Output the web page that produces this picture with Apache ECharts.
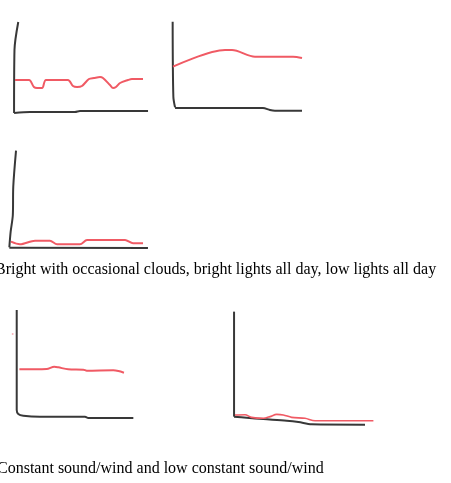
<!DOCTYPE html>
<html><head><meta charset="utf-8">
<style>html,body{margin:0;padding:0;background:#fff;}#c{width:451px;height:483px;}</style>
<script src="https://cdn.jsdelivr.net/npm/echarts@6/dist/echarts.min.js"></script>
</head><body><div id="c"></div>
<script>
// Panel 1: bright with occasional clouds
const p1AxisV = [[5.9,93],[3.2,65],[2.9,2]];
const p1AxisH = [[2.9,2],[14.3,3],[46.4,3],[50,4],[98.6,4]];
const p1Line = [[3.6,35],[13.6,35],[17.1,28],[19.3,27],[22.9,27],[25.7,35],[41.4,35],[45,29],[47.9,28],[51.4,29],[56.4,36],[60,37],[64.3,38],[66.4,37],[71.4,30],[73.6,27],[75.7,28],[78.6,32],[84.3,35],[87.1,36],[95,36]];
// Panel 2: bright lights all day
const p2AxisV = [[1.9,93.3],[2.4,18.3],[3.6,7.7]];
const p2AxisH = [[3.6,7],[66.4,7],[71.4,5],[75,4.3],[94.3,4.3]];
const p2Line = [[2.1,48.3],[39.3,65],[44.3,65],[60.7,58.3],[87.9,58.3],[94.3,57]];
// Panel 3: low lights all day
const p3AxisV = [[7.6,99.3],[5.7,63.3],[5.4,35],[3.9,18.3],[3.0,2.7]];
const p3AxisH = [[3.0,2.3],[98.6,2]];
const p3Line = [[4.1,8.3],[10.3,5.7],[20.7,9.3],[31,9.3],[35.9,5.7],[51.7,5.7],[56.6,10],[82.8,10],[88.3,6.7],[95.2,6.7]];
// Panel 4: constant sound/wind
const p4AxisV = [[4.8,91.7],[4.8,8.3],[5.9,5],[9.5,3.6],[21.4,2.8],[53.6,2.8],[55.9,1.7],[88.1,1.7]];
const p4Dot = [[1.9,71.7]];
const p4Line = [[6.7,42.2],[26.2,42.5],[31.6,44.4],[34.5,43.9],[41.6,42.2],[52.4,41.9],[54.8,41.1],[73.8,41.4],[77.4,40.8],[81.4,39.4]];
// Panel 5: low constant sound/wind
const p5AxisV = [[2.7,90.3],[2.7,2.8]];
const p5AxisH = [[2.7,2.8],[11.1,1.9],[22.2,0.8],[37.8,-0.6],[45.6,-1.7],[54.4,-3.6],[90,-3.9]];
const p5Line = [[3.3,4.2],[10,4.4],[14.4,2.2],[22.2,1.4],[26.7,2.8],[31.1,4.7],[35.6,4.2],[41.1,2.2],[50,1.4],[56.7,-0.6],[95.6,-0.6]];

const caption1 = "Bright with occasional clouds, bright lights all day, low lights all day";
const caption2 = "Constant sound/wind and low constant sound/wind";

const RED = '#f05a64', BLK = '#383838';
const grids = [
  {left:10, top:15, width:140, height:100},
  {left:170, top:15, width:140, height:100},
  {left:5, top:150, width:145, height:100},
  {left:10, top:300, width:140, height:120},
  {left:230, top:300, width:150, height:132}
];
const yMins = [0,0,0,0,-10];
const xAxes = grids.map((g,i)=>({type:'value', gridIndex:i, min:0, max:100, show:false}));
const yAxes = grids.map((g,i)=>({type:'value', gridIndex:i, min:yMins[i], max:100, show:false}));
function ln(i, data, color, w){
  return {type:'line', xAxisIndex:i, yAxisIndex:i, data:data, symbol:'none', clip:false, smooth:0.3,
    lineStyle:{color:color, width:w}, silent:true, animation:false};
}
const series = [
  ln(0,p1AxisV,BLK,2), ln(0,p1AxisH,BLK,2), ln(0,p1Line,RED,2),
  ln(1,p2AxisV,BLK,2), ln(1,p2AxisH,BLK,2), ln(1,p2Line,RED,2),
  ln(2,p3AxisV,BLK,2), ln(2,p3AxisH,BLK,2), ln(2,p3Line,RED,2),
  ln(3,p4AxisV,BLK,2), ln(3,p4Line,RED,2),
  {type:'scatter', xAxisIndex:3, yAxisIndex:3, data:p4Dot, symbolSize:2, itemStyle:{color:'#f7a0a8'}, silent:true, animation:false},
  ln(4,p5AxisV,BLK,2), ln(4,p5AxisH,BLK,2), ln(4,p5Line,RED,1.6)
];
const chart = echarts.init(document.getElementById('c'));
chart.setOption({
  animation:false,
  grid: grids.map(g=>Object.assign({containLabel:false}, g)),
  xAxis: xAxes, yAxis: yAxes, series: series,
  graphic: [
    {type:'text', left:-5, top:262, style:{text:caption1, font:'16px "Liberation Serif"', fill:'#000'}},
    {type:'text', left:-3, top:461, style:{text:caption2, font:'16px "Liberation Serif"', fill:'#000'}}
  ]
});
</script></body></html>
